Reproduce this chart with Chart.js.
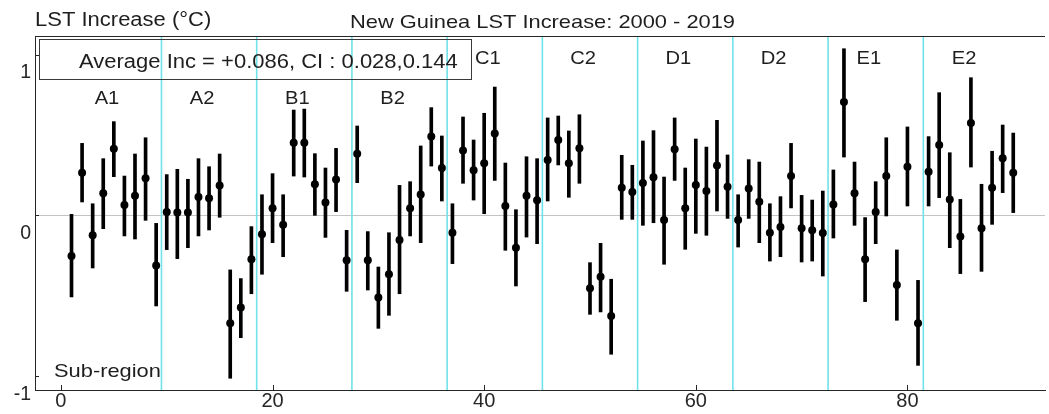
<!DOCTYPE html>
<html>
<head>
<meta charset="utf-8">
<title>New Guinea LST Increase: 2000 - 2019</title>
<script src="https://cdn.jsdelivr.net/npm/chart.js@4.4.1/dist/chart.umd.min.js"></script>
<style>
  html, body { margin: 0; padding: 0; background: #fff; }
  #wrap { width: 1049px; height: 414px; position: relative; }
</style>
</head>
<body>
<div id="wrap"><canvas id="c"></canvas></div>
<script>
// Sub-region index (x) of every estimate
const subRegion = [
   1,  2,  3,  4,  5,  6,  7,  8,  9, 10, 11, 12, 13, 14, 15, 16, 17, 18,
  19, 20, 21, 22, 23, 24, 25, 26, 27, 28, 29, 30, 31, 32, 33, 34, 35, 36,
  37, 38, 39, 40, 41, 42, 43, 44, 45, 46, 47, 48, 49, 50, 51, 52, 53, 54,
  55, 56, 57, 58, 59, 60, 61, 62, 63, 64, 65, 66, 67, 68, 69, 70, 71, 72,
  73, 74, 75, 76, 77, 78, 79, 80, 81, 82, 83, 84, 85, 86, 87, 88, 89, 90
];

// LST increase per sub-region (°C)
const lstIncrease = [
  -0.252,  0.266, -0.123,  0.138,  0.415,  0.065,  0.123,  0.231, -0.310,
   0.022,  0.018,  0.018,  0.115,  0.107,  0.187, -0.670, -0.572, -0.272,
  -0.117,  0.045, -0.057,  0.452,  0.452,  0.194,  0.080,  0.223, -0.278,
   0.384, -0.278, -0.510, -0.365, -0.152,  0.045,  0.131,  0.490,  0.295,
  -0.107,  0.403,  0.281,  0.324,  0.510,  0.059, -0.200,  0.123,  0.094,
   0.345,  0.469,  0.324,  0.417, -0.452, -0.380, -0.624,  0.173,  0.146,
   0.202,  0.237, -0.028,  0.411,  0.045,  0.189,  0.152,  0.310,  0.179,
  -0.028,  0.167,  0.086, -0.107, -0.071,  0.245, -0.080, -0.092, -0.109,
   0.069,  0.705,  0.138, -0.272,  0.022,  0.245, -0.432,  0.303, -0.670,
   0.272,  0.438,  0.100, -0.131,  0.575, -0.080,  0.173,  0.355,  0.266
];

// Confidence interval bounds
const ciLow = [
  -0.506,  0.084, -0.326, -0.082,  0.241, -0.127, -0.146, -0.030, -0.562,
  -0.212, -0.268, -0.200, -0.127, -0.090, -0.011, -1.011, -0.759, -0.486,
  -0.365, -0.169, -0.256,  0.245,  0.239,  0.001, -0.136,  0.024, -0.471,
   0.204, -0.463, -0.701, -0.620, -0.486, -0.127, -0.169,  0.307,  0.090,
  -0.299,  0.200,  0.096,  0.011,  0.218, -0.216, -0.438, -0.134, -0.175,
   0.090,  0.314,  0.113,  0.200, -0.614, -0.599, -0.862, -0.024, -0.024,
  -0.061, -0.045, -0.303,  0.218, -0.210, -0.111, -0.123,  0.028, -0.018,
  -0.196, -0.018, -0.169, -0.283, -0.256,  0.047, -0.289, -0.283, -0.376,
  -0.140,  0.363, -0.061, -0.535, -0.175, -0.003, -0.651,  0.059, -0.931,
   0.059,  0.111, -0.200, -0.361,  0.301, -0.347, -0.055,  0.142,  0.018
];
const ciHigh = [
   0.007,  0.448,  0.073,  0.353,  0.583,  0.245,  0.382,  0.483, -0.049,
   0.254,  0.287,  0.225,  0.353,  0.303,  0.382, -0.338, -0.392, -0.069,
   0.129,  0.260,  0.129,  0.655,  0.661,  0.384,  0.295,  0.417, -0.092,
   0.556, -0.100, -0.320, -0.107,  0.187,  0.210,  0.432,  0.670,  0.494,
   0.073,  0.612,  0.469,  0.635,  0.798,  0.326,  0.036,  0.365,  0.353,
   0.606,  0.618,  0.525,  0.626, -0.293, -0.173, -0.396,  0.374,  0.312,
   0.463,  0.527,  0.239,  0.606,  0.295,  0.475,  0.425,  0.591,  0.376,
   0.129,  0.347,  0.332,  0.073,  0.117,  0.448,  0.125,  0.096,  0.152,
   0.283,  1.036,  0.332, -0.013,  0.210,  0.483, -0.214,  0.550, -0.403,
   0.490,  0.763,  0.390,  0.100,  0.856,  0.194,  0.399,  0.562,  0.512
];

// Region groups and the separators between them
const regionNames = ['A1', 'A2', 'B1', 'B2', 'C1', 'C2', 'D1', 'D2', 'E1', 'E2'];
const regionStarts = [0.5, 9.5, 18.5, 27.5, 36.5, 45.5, 54.5, 63.5, 72.5, 81.5];
const separators = [9.5, 18.5, 27.5, 36.5, 45.5, 54.5, 63.5, 72.5, 81.5];

// Axis tick labels
const xTicks = [0, 20, 40, 60, 80];
const yTicks = [-1, 0, 1];

const titleText = 'New Guinea LST Increase: 2000 - 2019';
const yAxisTitle = 'LST Increase (°C)';
const xAxisTitle = 'Sub-region';
const summaryText = 'Average Inc = +0.086, CI : 0.028,0.144';

// ---- drawing ----
const X_MIN = -2.45, X_MAX = 93;
const Y_MIN = -1.084, Y_MAX = 1.115;
const FONT = '"Liberation Sans", Arial, Helvetica, sans-serif';
const INK = '#262626';
const CYAN = '#6fe2ea';

Chart.defaults.font.family = FONT;

const ciBars = subRegion.map((s, i) => ({ x: s, y: [ciLow[i], ciHigh[i]] }));
const centres = subRegion.map((s, i) => ({ x: s, y: lstIncrease[i] }));

const separatorSets = separators.map(b => ({
  type: 'line',
  data: [{ x: b, y: Y_MIN }, { x: b, y: Y_MAX }],
  borderColor: CYAN,
  borderWidth: 1.6,
  pointRadius: 0,
  fill: false,
  order: 5
}));

// draws text with a slight horizontal stretch
function wideText(ctx, str, x, y, size, sx, align) {
  ctx.save();
  ctx.font = size + 'px ' + FONT;
  ctx.textBaseline = 'alphabetic';
  ctx.textAlign = align;
  ctx.translate(x, y);
  ctx.scale(sx, 1);
  ctx.fillText(str, 0, 0);
  ctx.restore();
}

const decor = {
  id: 'decor',
  afterDatasetsDraw(chart) {
    const { ctx, chartArea: a, scales: { x, y } } = chart;
    ctx.save();
    ctx.strokeStyle = INK;
    ctx.lineWidth = 1;
    // top frame line
    ctx.beginPath();
    ctx.moveTo(a.left, Math.round(a.top) + 0.5);
    ctx.lineTo(a.right, Math.round(a.top) + 0.5);
    ctx.stroke();
    // inward tick marks
    ctx.beginPath();
    xTicks.forEach(v => {
      const px = Math.round(x.getPixelForValue(v)) + 0.5;
      ctx.moveTo(px, a.bottom);
      ctx.lineTo(px, a.bottom - 5);
    });
    yTicks.forEach(v => {
      const py = Math.round(y.getPixelForValue(v)) + 0.5;
      ctx.moveTo(a.left, py);
      ctx.lineTo(a.left + 4, py);
    });
    ctx.stroke();

    // summary box
    const boxL = 39.5, boxT = 39.5, boxW = 432, boxH = 40;
    ctx.strokeStyle = '#3a3a3a';
    ctx.strokeRect(boxL, boxT, boxW, boxH);

    ctx.fillStyle = '#1e1e1e';
    wideText(ctx, summaryText, 79, 67.5, 20, 1.1, 'left');
    wideText(ctx, titleText, 542.5, 28.3, 19, 1.15, 'center');
    wideText(ctx, yAxisTitle, 35, 26, 20, 1.1, 'left');
    wideText(ctx, xAxisTitle, 54, 377.3, 19, 1.15, 'left');

    // region labels; those sitting under the summary box drop to a lower row
    regionNames.forEach((name, k) => {
      const cx = x.getPixelForValue(regionStarts[k] + 3.85);
      const under = cx < boxL + boxW + 5;
      const base = y.getPixelForValue(under ? 0.694 : 0.939);
      wideText(ctx, name, cx, base, 19, 1.06, 'center');
    });
    ctx.restore();
  }
};

new Chart(document.getElementById('c'), {
  type: 'bar',
  data: {
    datasets: [
      ...separatorSets,
      {
        type: 'bar',
        data: ciBars,
        backgroundColor: '#000',
        borderWidth: 0,
        barThickness: 3,
        order: 2
      },
      {
        type: 'scatter',
        data: centres,
        pointRadius: 4,
        pointBackgroundColor: '#000',
        pointBorderWidth: 0,
        showLine: false,
        order: 1
      }
    ]
  },
  options: {
    responsive: true,
    maintainAspectRatio: false,
    animation: false,
    events: [],
    layout: { padding: { top: 36, right: 0, bottom: 0, left: 0 } },
    plugins: {
      legend: { display: false },
      tooltip: { enabled: false },
      title: { display: false }
    },
    scales: {
      x: {
        type: 'linear',
        min: X_MIN,
        max: X_MAX,
        offset: false,
        afterBuildTicks: s => { s.ticks = xTicks.map(v => ({ value: v })); },
        afterFit: s => { s.height = 24; },
        ticks: {
          color: INK,
          font: { size: 20 },
          padding: -1,
          maxRotation: 0,
          autoSkip: false,
          callback: v => String(v)
        },
        grid: { display: false, drawTicks: false, offset: false },
        border: { display: true, color: INK, width: 1 }
      },
      y: {
        type: 'linear',
        min: Y_MIN,
        max: Y_MAX,
        afterBuildTicks: s => { s.ticks = yTicks.map(v => ({ value: v })); },
        afterFit: s => { s.width = 35; },
        ticks: {
          color: INK,
          font: { size: 19.5 },
          padding: 4,
          labelOffset: 18,
          callback: v => String(v)
        },
        grid: {
          drawTicks: false,
          lineWidth: 1,
          color: c => (c.tick && c.tick.value === 0) ? '#c4c4c4' : 'rgba(0,0,0,0)'
        },
        border: { display: true, color: INK, width: 1 }
      }
    }
  },
  plugins: [decor]
});
</script>
</body>
</html>
